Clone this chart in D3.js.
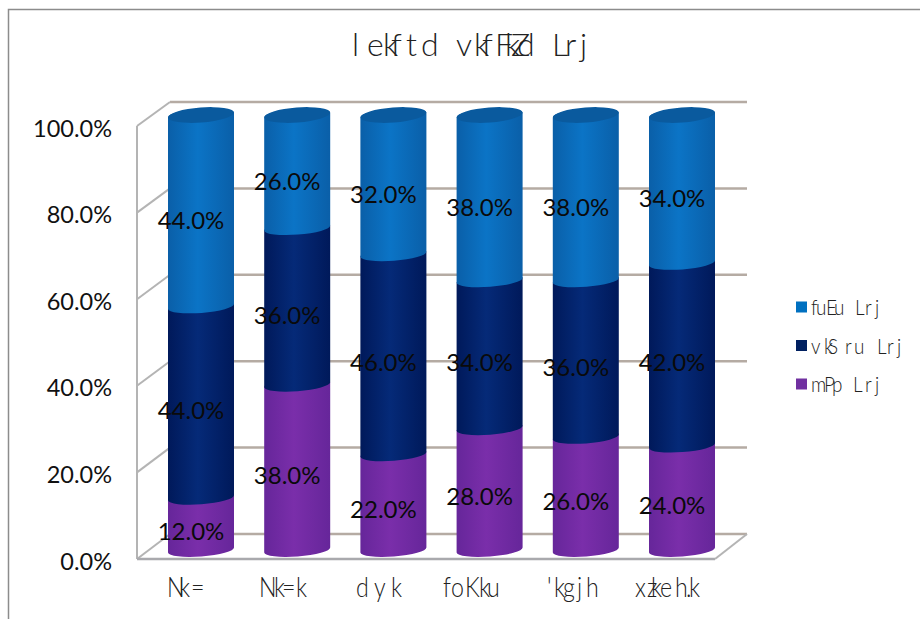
<!DOCTYPE html>
<html>
<head>
<meta charset="utf-8">
<script src="https://cdn.jsdelivr.net/npm/d3@7"></script>
<style>
html,body{margin:0;padding:0;background:#fff;}
svg{display:block;}
text{font-family:Lato,"Noto Sans",sans-serif;}
</style>
</head>
<body>
<svg id="chart" width="920" height="619"></svg>
<script>
// Stacked cylinder chart of levels by group
const categories = ["Nk=", "Nk=k", "dyk", "foKku", "'kgjh", "xzkeh.k"];
const lowLevel = [12, 38, 22, 28, 26, 24];
const midLevel = [44, 36, 46, 34, 36, 42];
const highLevel = [44, 26, 32, 38, 38, 34];
const seriesNames = ["fuEu Lrj", "vkS ru Lrj", "mPp Lrj"];
const tickValues = [0, 20, 40, 60, 80, 100];
const titleText = "l ekftd vkfFkZd Lrj";

// Start of each character in the spaced-out label runs
const titleGlyphs = [352, 360, 367, 383, 391, 406, 421, 445, 456, 474, 482, 495, 505, 511, 517, 540, 552, 565, 580];
const categoryGlyphs = [
  [167, 179, 191],
  [259, 274, 282, 296],
  [356, 374, 391],
  [443, 451, 465, 479, 487],
  [547, 554, 563, 577, 586],
  [635, 647, 651, 660, 675, 686, 689]
];
const legendGlyphs = [
  [811, 816, 826, 834, 847, 855, 865, 875],
  [811, 824, 828, 838, 845, 854, 867, 877, 887, 897],
  [811, 824, 832, 844, 853, 865, 875]
];

const svg = d3.select("#chart");
const defs = svg.append("defs");

const barY = d3.scaleLinear().domain([0, 100]).range([550, 115]);
const labelY = d3.scaleLinear().domain([0, 100]).range([566, 133.5]);
const frontY = d3.scaleLinear().domain([0, 100]).range([559, 126]);
const backY = d3.scaleLinear().domain([0, 100]).range([534, 102]);
const barX = d3.scalePoint().domain(categories).range([201, 682]);

const wall = {frontLeft: 137, backLeft: 170, frontRight: 715, backRight: 747};
const radius = 33, ry = 6.5, tilt = 2.5;
const pct = d3.format(".1f");

// One text element whose characters sit at given x positions, squeezed horizontally
function glyphRun(parent, str, starts, baseline, size, squeeze) {
  return parent.append("text")
    .attr("transform", `translate(0,${baseline}) scale(${squeeze},1)`)
    .attr("x", starts.map(v => (v / squeeze).toFixed(1)).join(" "))
    .attr("y", 0)
    .attr("font-size", size).attr("font-weight", 300).attr("fill", "#222")
    .text(str);
}

// Outer frame, open on the right and bottom
svg.append("path")
  .attr("d", "M8.5,619V9.5H920")
  .attr("fill", "none").attr("stroke", "#8c8c8c").attr("stroke-width", 1.5);

// Title
glyphRun(svg, titleText, titleGlyphs, 56, 32, 1);

// Walls and gridlines
const grid = svg.append("g").attr("fill", "none");
tickValues.forEach(v => {
  grid.append("line")
    .attr("x1", wall.backLeft).attr("x2", wall.backRight)
    .attr("y1", backY(v)).attr("y2", backY(v))
    .attr("stroke", "#b5aba3").attr("stroke-width", 2.5);
  grid.append("line")
    .attr("x1", wall.frontLeft).attr("x2", wall.backLeft)
    .attr("y1", frontY(v)).attr("y2", backY(v))
    .attr("stroke", "#b4b4b4").attr("stroke-width", 2);
});
grid.append("line")
  .attr("x1", wall.frontLeft).attr("x2", wall.frontLeft)
  .attr("y1", frontY(100)).attr("y2", frontY(0))
  .attr("stroke", "#b4b4b4").attr("stroke-width", 2);
grid.append("line")
  .attr("x1", wall.frontLeft).attr("x2", wall.frontRight)
  .attr("y1", frontY(0)).attr("y2", frontY(0))
  .attr("stroke", "#a9a9ad").attr("stroke-width", 2.5);
grid.append("line")
  .attr("x1", wall.frontRight).attr("x2", wall.backRight)
  .attr("y1", frontY(0)).attr("y2", backY(0))
  .attr("stroke", "#b4b4b4").attr("stroke-width", 2);

// Y axis labels
svg.append("g").selectAll("text").data(tickValues).join("text")
  .attr("x", 112).attr("y", d => frontY(d) + 10.5)
  .attr("text-anchor", "end").attr("font-size", 23.5).attr("fill", "#111")
  .text(d => pct(d) + "%");

// Category labels
const categoryLayer = svg.append("g");
categories.forEach((c, i) => glyphRun(categoryLayer, c, categoryGlyphs[i], 597, 27, 0.86));

// Cylinder shading
function shade(id, edge, mid) {
  const g = defs.append("linearGradient").attr("id", id);
  g.append("stop").attr("offset", "0%").attr("stop-color", edge);
  g.append("stop").attr("offset", "45%").attr("stop-color", mid);
  g.append("stop").attr("offset", "100%").attr("stop-color", edge);
}
shade("low", "#66269a", "#7a2eaa");
shade("mid", "#00195a", "#052a78");
shade("high", "#0a5fa8", "#0b74c6");

const series = [
  {id: "low", values: lowLevel},
  {id: "mid", values: midLevel},
  {id: "high", values: highLevel}
];

const arcTo = (x, y) => `A${radius},${ry} -4.3 0 0 ${x},${y}`;
function segmentPath(cx, y0, y1) {
  // Side walls with the front arc along the lower edge
  return `M${cx - radius},${y1 + tilt}L${cx - radius},${y0 + tilt}` +
    arcTo(cx + radius, y0 - tilt) +
    `L${cx + radius},${y1 - tilt}` + arcTo(cx - radius, y1 + tilt) + "Z";
}

const bars = svg.append("g");
const labels = [];
categories.forEach((cat, i) => {
  const cx = barX(cat);
  let sum = 0;
  series.forEach(s => {
    const v = s.values[i];
    bars.append("path")
      .attr("d", segmentPath(cx, barY(sum), barY(sum + v)))
      .attr("fill", `url(#${s.id})`);
    labels.push({x: cx - 10, y: labelY(sum + v / 2), v});
    sum += v;
  });
  // Top cap of the stack
  bars.append("ellipse")
    .attr("transform", `translate(${cx},${barY(sum)}) rotate(-4.3)`)
    .attr("rx", radius).attr("ry", 7.5)
    .attr("fill", "#0a5a9e");
});

// Value labels
svg.append("g").selectAll("text").data(labels).join("text")
  .attr("x", d => d.x).attr("y", d => d.y)
  .attr("text-anchor", "middle").attr("font-size", 24).attr("fill", "#0a0a0a")
  .text(d => pct(d.v) + "%");

// Legend
const legendColors = ["#0070c0", "#002060", "#7030a0"];
const legendY = d3.scalePoint().domain(seriesNames).range([307, 384]);
const legend = svg.append("g");
seriesNames.forEach((name, k) => {
  legend.append("rect").attr("x", 796).attr("y", legendY(name) - 5.5)
    .attr("width", 11).attr("height", 11).attr("fill", legendColors[k]);
  glyphRun(legend, name, legendGlyphs[k], legendY(name) + 8, 21, 0.9);
});
</script>
</body>
</html>
